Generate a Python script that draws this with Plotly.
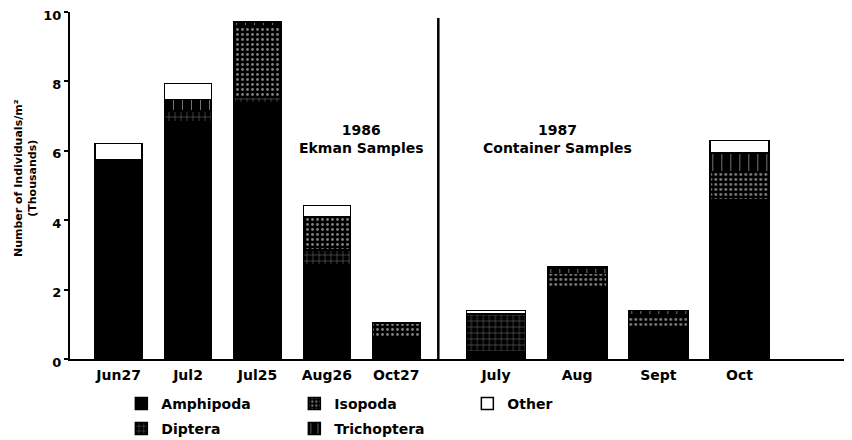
import plotly.graph_objects as go
from plotly.subplots import make_subplots

# ---- data (thousands of individuals per m^2) ----
cats_1986 = ["Jun27", "Jul2", "Jul25", "Aug26", "Oct27"]
cats_1987 = ["July", "Aug", "Sept", "Oct"]

amphipoda_1986 = [5.73, 6.84, 7.38, 2.71, 0.65]
diptera_1986 = [0, 0.30, 0.16, 0.43, 0]
isopoda_1986 = [0, 0, 2.06, 0.96, 0.39]
trichoptera_1986 = [0, 0.34, 0.11, 0, 0]
other_1986 = [0.48, 0.46, 0, 0.32, 0]

amphipoda_1987 = [0.22, 2.09, 0.89, 4.58]
diptera_1987 = [1.08, 0, 0, 0]
isopoda_1987 = [0, 0.38, 0.38, 0.82]
trichoptera_1987 = [0, 0.15, 0.13, 0.54]
other_1987 = [0.10, 0.04, 0, 0.35]

yticks = [0, 2, 4, 6, 8, 10]

series_names = ["Amphipoda", "Diptera", "Isopoda", "Trichoptera", "Other"]
data_1986 = [amphipoda_1986, diptera_1986, isopoda_1986, trichoptera_1986, other_1986]
data_1987 = [amphipoda_1987, diptera_1987, isopoda_1987, trichoptera_1987, other_1987]

# ---- styles ----
styles = {
    "Amphipoda": dict(color="black", pattern=dict(shape="")),
    "Diptera": dict(color="black", pattern=dict(shape="+", fgcolor="white", bgcolor="black",
                                                 size=6, solidity=0.15)),
    "Isopoda": dict(color="black", pattern=dict(shape=".", fgcolor="white", bgcolor="black",
                                                 size=5, solidity=0.25)),
    "Trichoptera": dict(color="black", pattern=dict(shape="|", fgcolor="white", bgcolor="black",
                                                     size=9, solidity=0.1)),
    "Other": dict(color="white", pattern=dict(shape="")),
}
legend_of = {"Amphipoda": "legend", "Isopoda": "legend", "Other": "legend",
             "Diptera": "legend2", "Trichoptera": "legend2"}

LEFT_DOMAIN_END = 0.4734
FONT = "DejaVu Sans"

fig = make_subplots(rows=1, cols=2, shared_yaxes=True, horizontal_spacing=0,
                    column_widths=[LEFT_DOMAIN_END, 1 - LEFT_DOMAIN_END])


def clean(vals):
    return [v if v > 0 else None for v in vals]


for col, cats, data, width in [(1, cats_1986, data_1986, 0.68), (2, cats_1987, data_1987, 0.73)]:
    for name, vals in zip(series_names, data):
        st = styles[name]
        fig.add_trace(go.Bar(
            x=cats, y=clean(vals), name=name, width=width,
            legendgroup=name, showlegend=(col == 1), legend=legend_of[name],
            marker=dict(color=st["color"], pattern=st["pattern"],
                        line=dict(color="black", width=1.5)),
        ), row=1, col=col)

legend_common = dict(orientation="h", x=0.066, xanchor="left", yanchor="top",
                     entrywidth=128, traceorder="normal",
                     font=dict(family=FONT, size=14, weight="bold"),
                     bgcolor="rgba(0,0,0,0)", itemclick=False)

# the page body adds an 8px offset, so the figure is 8px smaller than the window
fig.update_layout(
    width=844, height=432,
    barmode="stack",
    plot_bgcolor="white", paper_bgcolor="white",
    margin=dict(l=62, r=4, t=4, b=81, autoexpand=False),
    font=dict(family=FONT, size=13, color="black", weight="bold"),
    legend=dict(y=-0.0836, **legend_common),
    legend2=dict(y=-0.1556, **legend_common),
)

xcommon = dict(showline=True, linecolor="black", linewidth=2, ticks="", showgrid=False,
               zeroline=False, tickfont=dict(family=FONT, size=14, weight="bold"),
               ticklabelstandoff=2, fixedrange=True, automargin=False)
fig.update_xaxes(range=[-0.70, 4.605], **xcommon, row=1, col=1)
fig.update_xaxes(range=[-0.71, 4.336], **xcommon, row=1, col=2)
fig.update_xaxes(domain=[0, LEFT_DOMAIN_END], row=1, col=1)
fig.update_xaxes(domain=[LEFT_DOMAIN_END, 1], row=1, col=2)

fig.update_yaxes(range=[0, 10], tickvals=yticks, ticktext=[str(t) for t in yticks],
                 showline=True, linecolor="black", linewidth=2, ticks="outside",
                 ticklen=4, tickwidth=2, tickcolor="black", showgrid=False, zeroline=False,
                 tickfont=dict(family=FONT, size=13, weight="bold"), fixedrange=True,
                 ticklabeloverflow="allow", ticklabelshift=3,
                 automargin=False, row=1, col=1)
fig.update_yaxes(showline=False, ticks="", showticklabels=False, automargin=False,
                 row=1, col=2)

# divider between the two sampling periods
fig.add_shape(type="line", xref="paper", yref="y", x0=LEFT_DOMAIN_END, x1=LEFT_DOMAIN_END,
              y0=0, y1=9.83, line=dict(color="black", width=2.5))

fig.add_annotation(xref="paper", yref="paper", x=0.375, y=0.633, showarrow=False,
                   text="1986<br>Ekman Samples", font=dict(family=FONT, size=14, weight="bold"),
                   xanchor="center", yanchor="middle")
fig.add_annotation(xref="paper", yref="paper", x=0.626, y=0.633, showarrow=False,
                   text="1987<br>Container Samples", font=dict(family=FONT, size=14, weight="bold"),
                   xanchor="center", yanchor="middle")
fig.add_annotation(xref="paper", yref="paper", x=-0.0578, y=0.5216, showarrow=False,
                   text="Number of Individuals/m²<br>(Thousands)", textangle=-90,
                   font=dict(family=FONT, size=11, weight="bold"),
                   xanchor="center", yanchor="middle")

fig.write_html("out.html")
